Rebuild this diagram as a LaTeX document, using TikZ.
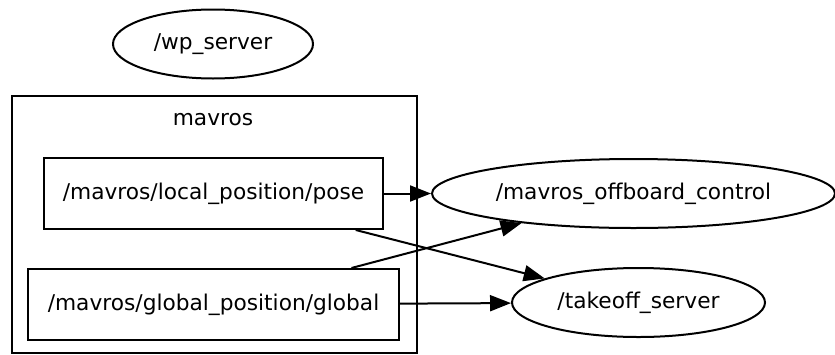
\documentclass[tikz,border=0pt]{standalone}
\usepackage{fontspec}
\newfontfamily\dvs{DejaVu Sans}
\usetikzlibrary{shapes.geometric}
\usetikzlibrary{arrows.meta}
\usetikzlibrary{positioning}
\newcommand{\rosfont}{\dvs\fontsize{21.7}{24}\selectfont}
\tikzset{topic node/.style={rectangle,draw,line width=2pt,inner sep=0pt,minimum height=71pt,font=\rosfont},
  proc node/.style={ellipse,draw,line width=2pt,inner sep=0pt,minimum height=69pt,font=\rosfont},
  cluster node/.style={rectangle,draw,line width=2pt,inner sep=0pt},
  flow/.style={line width=2pt,-{Triangle[length=21pt,width=16pt]}},}

\begin{document}
\begin{tikzpicture}[x=1pt,y=1pt]
      \useasboundingbox (0,0) rectangle (835,-354);
      \node[proc node,minimum width=200pt] (wp) at (213,-44) {/wp\_server};
      \node[cluster node,minimum width=405pt,minimum height=257pt] (mavros) at (214.5,-224.5) {};
      \node[font=\rosfont,inner sep=0pt] (mavroslbl) at (213,-120) {mavros};
      \node[topic node,minimum width=339pt] (pose) at (213.5,-193.5) {/mavros/local\_position/pose};
      \node[topic node,minimum width=371pt] (global) [below=38pt of pose] {/mavros/global\_position/global};
      \node[proc node,minimum width=403pt] (offb) at (633.5,-193.5) {/mavros\_offboard\_control};
      \node[proc node,minimum width=253pt] (takeoff) at (638.5,-302.5) {/takeoff\_server};

      \path[flow]
      (pose) edge (offb)
      (pose) edge (takeoff)
      (global) edge (offb)
      (global) edge (takeoff);
    \end{tikzpicture}
\end{document}
